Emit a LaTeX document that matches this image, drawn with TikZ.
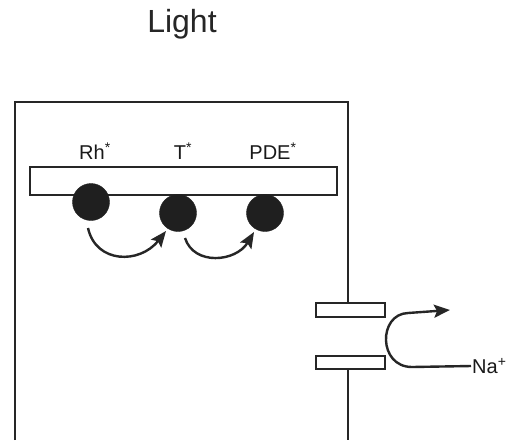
\documentclass[tikz,border=0pt]{standalone}
\usepackage{fontspec}
\setmainfont{Liberation Sans}
\usetikzlibrary{arrows.meta}
\begin{document}
\begin{tikzpicture}[x=1pt,y=-1pt,
  wall/.style={line width=2.8pt,draw=black!85},
  bar/.style={line width=2.4pt,draw=black!85,fill=white},
  prot/.style={circle,fill=black!88,draw=black!88,minimum size=37pt,inner sep=0pt},
  lab/.style={font=\fontsize{20}{20}\selectfont,text=black!90},
  flow/.style={line width=2.4pt,draw=black!85,-{Stealth[length=16pt,width=13pt,inset=3pt]}}]
\useasboundingbox[fill=white] (0,0) rectangle (508,440);
% title
\node[font=\fontsize{32}{32}\selectfont,text=black!85] (light) at (182,24) {Light};
% cell wall
\coordinate (bl) at (15,440);
\coordinate (tl) at (15,102);
\coordinate (tr) at (348,102);
\coordinate (c1) at (348,303);
\coordinate (c2) at (348,369);
\coordinate (br) at (348,440);
\draw[wall] (bl) -- (tl) -- (tr) -- (c1);
\draw[wall] (c2) -- (br);
% membrane disc
\draw[bar] (30,167) rectangle (337,195);
% proteins
\node[prot] (rh) at (91,202) {};
\node[prot] (t) at (178,213) {};
\node[prot] (pde) at (265,213) {};
\node[lab] (rhl) at (95,151) {Rh\textsuperscript{*}};
\node[lab] (tl2) at (183,151) {T\textsuperscript{*}};
\node[lab] (pdel) at (273,151) {PDE\textsuperscript{*}};
% cascade arrows
\coordinate (a1s) at (88,228);
\coordinate (a1e) at (166,231);
\coordinate (a2s) at (185,238);
\coordinate (a2e) at (254,232);
\draw[flow] (a1s) .. controls (96,264) and (140,264) .. (a1e);
\draw[flow] (a2s) .. controls (194,266) and (236,262) .. (a2e);
% channel
\draw[bar] (316,303) rectangle (385,317);
\draw[bar] (316,356) rectangle (385,369);
\node[lab,anchor=west,inner sep=1pt] (na) at (471,366) {Na\textsuperscript{+}};
\coordinate (naout) at (450,310);
\draw[flow] (na.west) -- (412,367) .. controls (378,367) and (378,314) .. (408,313) -- (naout);
\end{tikzpicture}
\end{document}
